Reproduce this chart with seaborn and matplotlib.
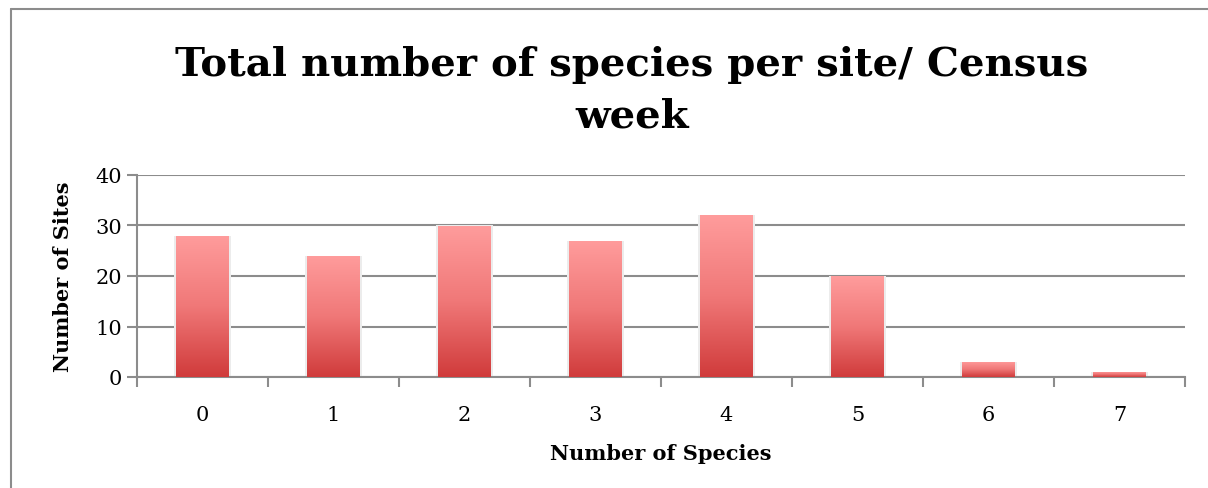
import matplotlib
matplotlib.use("Agg")
import matplotlib.pyplot as plt
import seaborn as sns
import numpy as np
import pandas as pd
from matplotlib.colors import LinearSegmentedColormap
from matplotlib.patches import Rectangle

species = ["0", "1", "2", "3", "4", "5", "6", "7"]
sites = [28, 24, 30, 27, 32, 20, 3, 1]

df = pd.DataFrame({"species": species, "sites": sites})

sns.set_theme(style="white")
plt.rcParams["font.family"] = ["DejaVu Serif"]
plt.rcParams["text.color"] = "black"
plt.rcParams["axes.labelcolor"] = "black"
plt.rcParams["xtick.labelcolor"] = "black"
plt.rcParams["ytick.labelcolor"] = "black"

fig = plt.figure(figsize=(12.08, 4.89), dpi=100)
ax = fig.add_axes([137 / 1208, 1 - 378 / 489, (1185 - 137) / 1208, (378 - 176) / 489])

sns.barplot(data=df, x="species", y="sites", color="#e06060", width=0.4, ax=ax, zorder=3)

# vertical gradient fill on each bar, light pink on top to red at bottom
cmap = LinearSegmentedColormap.from_list("bar", ["#d03b3b", "#f07878", "#ff9c9c"])
grad = np.linspace(0, 1, 256).reshape(-1, 1)
for p in ax.patches:
    x0, w, h = p.get_x(), p.get_width(), p.get_height()
    p.set_facecolor("none")
    p.set_edgecolor("none")
    im = ax.imshow(grad, cmap=cmap, origin="lower", aspect="auto",
                   extent=[x0, x0 + w, 0, h], zorder=3)
    im.set_clip_path(p)
    # faint shadow
    ax.add_patch(Rectangle((x0 - 0.02, 0), w + 0.04, h, facecolor="#ececec",
                           edgecolor="none", zorder=2))

ax.set_xlim(-0.5, 7.5)
ax.set_ylim(0, 40)
ax.set_yticks([0, 10, 20, 30, 40])
ax.grid(axis="y", color="#8c8c8c", linewidth=1.5, zorder=0)
ax.set_axisbelow(True)

for s in ["top", "right"]:
    ax.spines[s].set_visible(False)
for s in ["left", "bottom"]:
    ax.spines[s].set_color("#8c8c8c")
    ax.spines[s].set_linewidth(1.5)

ax.set_xticks(np.arange(-0.5, 8, 1), minor=False)
ax.set_xticklabels([])
ax.set_xticks(np.arange(0, 8), minor=True)
ax.set_xticklabels(species, minor=True, fontsize=15)
ax.tick_params(axis="x", which="major", direction="out", length=7, width=1.5,
               color="#8c8c8c", bottom=True)
ax.tick_params(axis="x", which="minor", length=0, pad=20, bottom=True)
ax.tick_params(axis="y", direction="out", length=7, width=1.5, color="#8c8c8c",
               labelsize=15, left=True, pad=4)

ax.set_xlabel("Number of Species", fontsize=15, fontweight="bold", labelpad=14)
ax.set_ylabel("Number of Sites", fontsize=15, fontweight="bold", labelpad=16)

fig.text(0.523, 0.815, "Total number of species per site/ Census\nweek",
         ha="center", va="center", fontsize=29, fontweight="bold", linespacing=1.45)

# outer chart frame
fig.add_artist(plt.Line2D([11 / 1208, 11 / 1208], [0, 1 - 10 / 489],
                          transform=fig.transFigure, color="#8c8c8c", linewidth=1.5))
fig.add_artist(plt.Line2D([11 / 1208, 1], [1 - 10 / 489, 1 - 10 / 489],
                          transform=fig.transFigure, color="#8c8c8c", linewidth=1.5))

fig.savefig("out.png", dpi=100, facecolor="white")
